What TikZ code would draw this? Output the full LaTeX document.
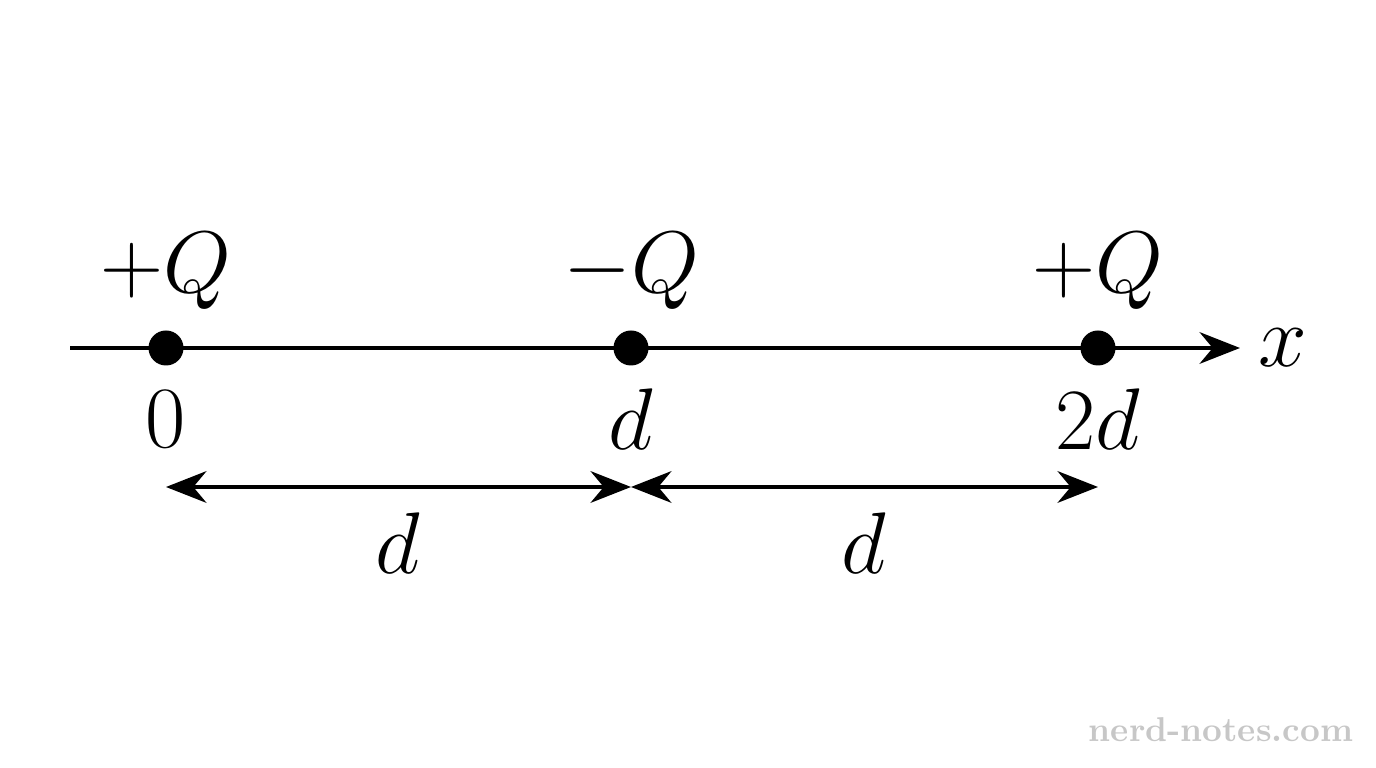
\documentclass[tikz,border=0pt]{standalone}
\usepackage{amsmath}
\usepackage{tikz}
\usetikzlibrary{arrows.meta}
\colorlet{wmk}{black!22}

\begin{document}
\begin{tikzpicture}[
        axisline/.style={line width=1.15pt,-{Stealth[length=11.5pt,width=9pt]}},
        dimline/.style={line width=1.15pt,{Stealth[length=11.5pt,width=9pt]}-{Stealth[length=11.5pt,width=9pt]}},
        lbl/.style={font=\fontsize{23}{27}\selectfont}
    ]
        \useasboundingbox (0,0) rectangle (13.76,7.68);

        \coordinate (start) at (0.70,4.20);
        \coordinate (tip) at (12.40,4.20);
        \draw [axisline] (start) -- (tip);
        \node[lbl] (xlab) at (12.83,4.20) {$x$};

        % charges, labels above and below
        \foreach \n/\px/\q/\pos in {qa/1.66/+Q/0, qb/6.31/-Q/d, qc/10.98/+Q/2d} {
            \fill (\px,4.20) circle (0.175);
            \coordinate (\n) at (\px,2.81);
            \node[lbl] (\n-top) at (\px,4.97) {$\q$};
            \node[lbl] (\n-bot) at (\px,3.49) {$\pos$};
        }

        \draw [dimline] (qa) -- (qb);
        \draw [dimline] (qb) -- (qc);
        \node[lbl] (da) at (3.98,2.25) {$d$};
        \node[lbl] (db) at (8.64,2.25) {$d$};

        \node[wmk,font=\fontsize{9.8}{12}\selectfont\bfseries] (mark) at (12.21,0.38) {nerd-notes.com};
    \end{tikzpicture}
\end{document}
